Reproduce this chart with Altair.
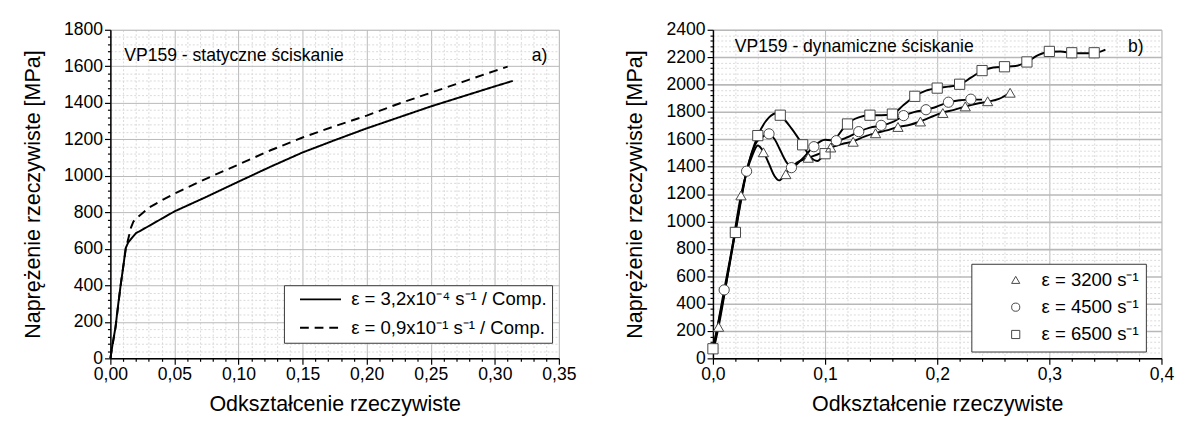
import altair as alt
import pandas as pd

FONT = "Liberation Sans"

# ---------------- panel a) static compression ----------------
static_series = ["ε = 3,2x10⁻⁴ s⁻¹ / Comp.", "ε = 0,9x10⁻¹ s⁻¹ / Comp."]

solid_x = [0.0, 0.002, 0.004, 0.006, 0.008, 0.010, 0.012, 0.014, 0.017, 0.020, 0.025,
           0.030, 0.040, 0.050, 0.075, 0.100, 0.125, 0.150, 0.175, 0.200, 0.225, 0.250,
           0.275, 0.300, 0.314]
solid_y = [0, 90, 170, 290, 400, 500, 605, 636, 662, 686, 705, 725, 765, 805, 885, 968,
           1050, 1128, 1195, 1260, 1320, 1380, 1435, 1490, 1520]

dash_x = [0.0, 0.004, 0.008, 0.012, 0.0145, 0.016, 0.018, 0.021, 0.025, 0.030, 0.040,
          0.050, 0.075, 0.100, 0.125, 0.150, 0.175, 0.200, 0.225, 0.250, 0.275, 0.300, 0.310]
dash_y = [0, 170, 400, 600, 670, 715, 750, 772, 795, 825, 865, 902, 985, 1062, 1140, 1210,
          1272, 1330, 1395, 1455, 1515, 1575, 1598]

static_note_x = [0.0108]
static_note_y = [1654]
static_note = ["VP159 - statyczne ściskanie"]
static_tag_x = [0.341]
static_tag_y = [1654]
static_tag = ["a)"]

# ---------------- panel b) dynamic compression ----------------
dyn_series = ["ε = 3200 s⁻¹", "ε = 4500 s⁻¹", "ε = 6500 s⁻¹"]
dyn_shapes = ["triangle-up", "circle", "square"]

tri_line_x = [0.0, 0.005, 0.015, 0.025, 0.035, 0.040, 0.045, 0.050, 0.055, 0.059, 0.065,
              0.075, 0.085, 0.095, 0.105, 0.115, 0.125, 0.135, 0.145, 0.155, 0.165, 0.175,
              0.185, 0.195, 0.205, 0.215, 0.225, 0.235, 0.245, 0.255, 0.265]
tri_line_y = [40, 230, 700, 1190, 1480, 1555, 1510, 1420, 1330, 1300, 1350, 1430, 1465,
              1495, 1540, 1565, 1585, 1620, 1645, 1665, 1690, 1705, 1730, 1765, 1795, 1815,
              1840, 1860, 1875, 1895, 1940]
tri_mark_x = [0.005, 0.025, 0.045, 0.065, 0.085, 0.105, 0.125, 0.145, 0.165, 0.185, 0.205,
              0.225, 0.245, 0.265]
tri_mark_y = [230, 1190, 1505, 1345, 1465, 1540, 1582, 1644, 1690, 1730, 1792, 1840, 1878,
              1940]

cir_line_x = [0.0, 0.01, 0.02, 0.03, 0.04, 0.05, 0.055, 0.06, 0.065, 0.07, 0.08, 0.09,
              0.10, 0.11, 0.12, 0.13, 0.14, 0.15, 0.16, 0.17, 0.18, 0.19, 0.20, 0.21, 0.22,
              0.23, 0.24]
cir_line_y = [50, 500, 930, 1365, 1590, 1635, 1600, 1520, 1440, 1395, 1460, 1550, 1597,
              1590, 1615, 1655, 1685, 1700, 1725, 1770, 1800, 1815, 1840, 1870, 1885, 1890,
              1890]
cir_mark_x = [0.01, 0.03, 0.05, 0.07, 0.09, 0.11, 0.13, 0.15, 0.17, 0.19, 0.21, 0.23]
cir_mark_y = [500, 1367, 1640, 1393, 1546, 1590, 1656, 1702, 1773, 1816, 1871, 1893]

sq_line_x = [0.0, 0.01, 0.02, 0.03, 0.04, 0.05, 0.057, 0.06, 0.07, 0.08, 0.087, 0.093,
             0.10, 0.11, 0.12, 0.13, 0.14, 0.15, 0.16, 0.17, 0.18, 0.19, 0.20, 0.21, 0.22,
             0.23, 0.24, 0.25, 0.26, 0.27, 0.28, 0.29, 0.30, 0.31, 0.32, 0.33, 0.34, 0.35]
sq_line_y = [70, 470, 920, 1365, 1625, 1760, 1790, 1775, 1680, 1560, 1470, 1442, 1500,
             1610, 1715, 1760, 1775, 1775, 1785, 1850, 1915, 1955, 1975, 1985, 2000, 2050,
             2100, 2125, 2130, 2135, 2165, 2215, 2240, 2242, 2230, 2228, 2230, 2255]
sq_mark_x = [0.0, 0.02, 0.04, 0.06, 0.08, 0.10, 0.12, 0.14, 0.16, 0.18, 0.20, 0.22, 0.24,
             0.26, 0.28, 0.30, 0.32, 0.34]
sq_mark_y = [70, 920, 1627, 1776, 1560, 1495, 1712, 1776, 1784, 1914, 1974, 2002, 2102,
             2130, 2165, 2242, 2232, 2232]

dyn_note_x = [0.0195]
dyn_note_y = [2274]
dyn_note = ["VP159 - dynamiczne ściskanie"]
dyn_tag_x = [0.384]
dyn_tag_y = [2274]
dyn_tag = ["b)"]

x_title = "Odkształcenie rzeczywiste"
y_title = "Naprężenie rzeczywiste [MPa]"

left_x_ticks = [round(i * 0.01, 2) for i in range(36)]
left_y_ticks = [i * 40 for i in range(46)]
right_x_ticks = [round(i * 0.02, 2) for i in range(21)]
right_y_ticks = [i * 40 for i in range(61)]

W, H = 460, 337
MARKER_STROKE = "#444444"


def frame(xs, ys, name):
    return pd.DataFrame({"x": xs, "y": ys, "series": name})


def make_axis(title, values, major_test, label_expr, title_pad, grid_w=1.0):
    return alt.Axis(
        title=title,
        values=values,
        labelExpr=label_expr,
        tickSize={"condition": {"test": major_test, "value": 6}, "value": 3},
        gridDash={"condition": {"test": major_test, "value": []}, "value": [2, 2]},
        gridColor={"condition": {"test": major_test, "value": "#b8b8b8"}, "value": "#d9d9d9"},
        gridWidth={"condition": {"test": major_test, "value": grid_w}, "value": 1},
        domainColor="black",
        domainWidth=1.5,
        tickColor="black",
        tickWidth=1.2,
        labelFont=FONT,
        labelFontSize=18,
        labelColor="black",
        labelPadding=2,
        labelOverlap=False,
        labelFlush=False,
        titleFont=FONT,
        titleFontSize=22,
        titleFontWeight="normal",
        titleColor="black",
        titlePadding=title_pad,
    )


def x_test(step):
    k = round(1 / step)
    return f"abs(datum.value*{k} - round(datum.value*{k})) < 0.001"


def x_label(step, fmt):
    return f"{x_test(step)} ? replace(format(datum.value, '{fmt}'), '.', ',') : ''"


y_test = "abs(datum.value % 200) < 0.001"
y_label = f"{y_test} ? format(datum.value, 'd') : ''"

# ---------- left chart ----------
xl = alt.X("x:Q", scale=alt.Scale(domain=[0, 0.35], nice=False, zero=False),
           axis=make_axis(x_title, left_x_ticks, x_test(0.05), x_label(0.05, ".2f"), 10))
yl = alt.Y("y:Q", scale=alt.Scale(domain=[0, 1800], nice=False),
           axis=make_axis(y_title, left_y_ticks, y_test, y_label, 20))

static_df = pd.concat([frame(solid_x, solid_y, static_series[0]),
                       frame(dash_x, dash_y, static_series[1])])

left_lines = alt.Chart(static_df).mark_line(color="black", strokeWidth=2).encode(
    x=xl, y=yl,
    strokeDash=alt.StrokeDash(
        "series:N",
        scale=alt.Scale(domain=static_series, range=[[1, 0], [9, 6]]),
        legend=alt.Legend(
            title=None, orient="none", legendX=178, legendY=262,
            fillColor="white", strokeColor="#333", padding=5,
            labelFont=FONT, labelFontSize=19, labelColor="black", labelLimit=500,
            labelExpr="datum.label + '   '",
            symbolType="M-3,0H3", symbolSize=196, symbolStrokeWidth=2,
            symbolStrokeColor="black", symbolOffset=23, labelOffset=22, rowPadding=9,
        ),
    ),
)

left_note = alt.Chart(pd.DataFrame({"x": static_note_x, "y": static_note_y, "t": static_note})).mark_text(
    align="left", baseline="middle", font=FONT, fontSize=18, color="black").encode(x=xl, y=yl, text="t:N")
left_tag = alt.Chart(pd.DataFrame({"x": static_tag_x, "y": static_tag_y, "t": static_tag})).mark_text(
    align="right", baseline="middle", font=FONT, fontSize=18, color="black").encode(x=xl, y=yl, text="t:N")

left = alt.layer(left_lines, left_note, left_tag).properties(width=W, height=H)

# ---------- right chart ----------
xr = alt.X("x:Q", scale=alt.Scale(domain=[0, 0.4], nice=False, zero=False),
           axis=make_axis(x_title, right_x_ticks, x_test(0.1), x_label(0.1, ".1f"), 10))
yr = alt.Y("y:Q", scale=alt.Scale(domain=[0, 2400], nice=False),
           axis=make_axis(y_title, right_y_ticks, y_test, y_label, 20, grid_w=1.6))

dyn_lines_df = pd.concat([frame(tri_line_x, tri_line_y, dyn_series[0]),
                          frame(cir_line_x, cir_line_y, dyn_series[1]),
                          frame(sq_line_x, sq_line_y, dyn_series[2])])
dyn_marks_df = pd.concat([frame(tri_mark_x, tri_mark_y, dyn_series[0]),
                          frame(cir_mark_x, cir_mark_y, dyn_series[1]),
                          frame(sq_mark_x, sq_mark_y, dyn_series[2])])

right_lines = alt.Chart(dyn_lines_df).mark_line(
    interpolate="monotone", color="black", strokeWidth=2).encode(x=xr, y=yr, detail="series:N")

# white bodies of the open markers (one layer per shape, no shape channel)
fill_layers = [
    alt.Chart(dyn_marks_df).transform_filter(alt.datum.series == name).mark_point(
        shape=shp, filled=True, color="white", size=110, opacity=1).encode(x=xr, y=yr)
    for name, shp in zip(dyn_series, dyn_shapes)
]

# marker outlines, which also provide the legend
right_marks = alt.Chart(dyn_marks_df).mark_point(
    filled=False, color=MARKER_STROKE, strokeWidth=1, size=110, opacity=1).encode(
    x=xr, y=yr,
    shape=alt.Shape(
        "series:N",
        scale=alt.Scale(domain=dyn_series, range=dyn_shapes),
        legend=alt.Legend(
            title=None, orient="none", legendX=265, legendY=240,
            fillColor="white", strokeColor="#333", padding=7,
            labelFont=FONT, labelFontSize=19, labelColor="black", labelLimit=500,
            labelExpr="datum.label + '     '",
            symbolSize=70, symbolStrokeWidth=1, symbolStrokeColor=MARKER_STROKE,
            symbolOffset=29, labelOffset=17, rowPadding=8,
        ),
    ),
)

right_note = alt.Chart(pd.DataFrame({"x": dyn_note_x, "y": dyn_note_y, "t": dyn_note})).mark_text(
    align="left", baseline="middle", font=FONT, fontSize=18, color="black").encode(x=xr, y=yr, text="t:N")
right_tag = alt.Chart(pd.DataFrame({"x": dyn_tag_x, "y": dyn_tag_y, "t": dyn_tag})).mark_text(
    align="right", baseline="middle", font=FONT, fontSize=18, color="black").encode(x=xr, y=yr, text="t:N")

right = alt.layer(right_lines, *fill_layers, right_marks, right_note, right_tag).properties(
    width=W, height=H)

chart = alt.hconcat(left, right, spacing=158, bounds="flush").resolve_legend(
    strokeDash="independent", shape="independent"
).properties(
    padding={"left": 13, "top": 7, "right": 5, "bottom": 5}
).configure_view(stroke=None).configure(background="white")

chart.save("out.html", embed_options={"renderer": "svg", "actions": False})
